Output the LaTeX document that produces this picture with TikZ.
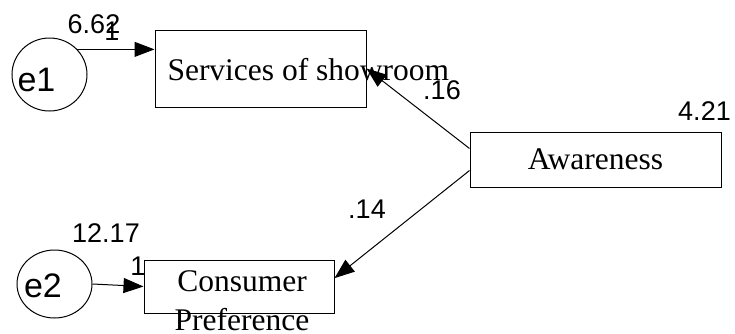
\documentclass[tikz,border=0pt]{standalone}
\usepackage{fontspec}
\setmainfont{Liberation Serif}
\newfontfamily\numfont{Liberation Sans}
\usetikzlibrary{arrows.meta,shapes.geometric}

\tikzset{
  obs/.style={draw, rectangle, inner sep=0pt},
  err/.style={draw, ellipse, inner sep=0pt},
  lbl/.style={font=\fontsize{31.5}{39}\selectfont, inner sep=0pt},
  num/.style={font=\numfont\fontsize{27}{27}\selectfont, inner sep=0pt},
  elbl/.style={font=\numfont\fontsize{34}{34}\selectfont, inner sep=0pt},
  reg/.style={-{Triangle[length=20pt,width=15pt]}}
}

\begin{document}
\begin{tikzpicture}[x=1pt,y=-1pt,line width=1pt]
\useasboundingbox (0,0) rectangle (735,333);

% observed variables
\node[obs, minimum width=211pt, minimum height=77pt] (svc) at (260.5,68.5) {};
\node[lbl, anchor=base west] (svctext) at (167,80) {Services of showroom};
\node[obs, lbl, draw, minimum width=251pt, minimum height=55pt] (aw) at (595.5,159.5) {Awareness};
\node[obs, minimum width=190pt, minimum height=53pt] (cp) at (239,286.5) {};
\node[lbl, align=center, anchor=north] (cptext) at (242,270.5) {Consumer\\Preference};

% error terms
\node[err, minimum width=75pt, minimum height=73pt] (e1) at (49.5,74.5) {};
\node[elbl] (e1lbl) at (36.5,80) {e1};
\node[err, minimum width=75pt, minimum height=68pt] (e2) at (54.5,284) {};
\node[elbl] (e2lbl) at (43,285.5) {e2};

% paths
\draw[reg] (e1.42) -- (e1.42 -| svc.west);
\draw[reg] (e2.east) -- (cp.west);
\draw[reg] (aw.175) -- (svc.east);
\draw[reg] (aw.185) -- (cp.5);

% estimates
\node[num] (v1) at (94,24) {6.62};
\node[num] (w1) at (112,31) {1};
\node[num] (v2) at (106,233) {12.17};
\node[num] (w2) at (138,266) {1};
\node[num] (v3) at (704.5,111.5) {4.21};
\node[num] (b1) at (442,90) {.16};
\node[num] (b2) at (367,209) {.14};
\end{tikzpicture}
\end{document}
